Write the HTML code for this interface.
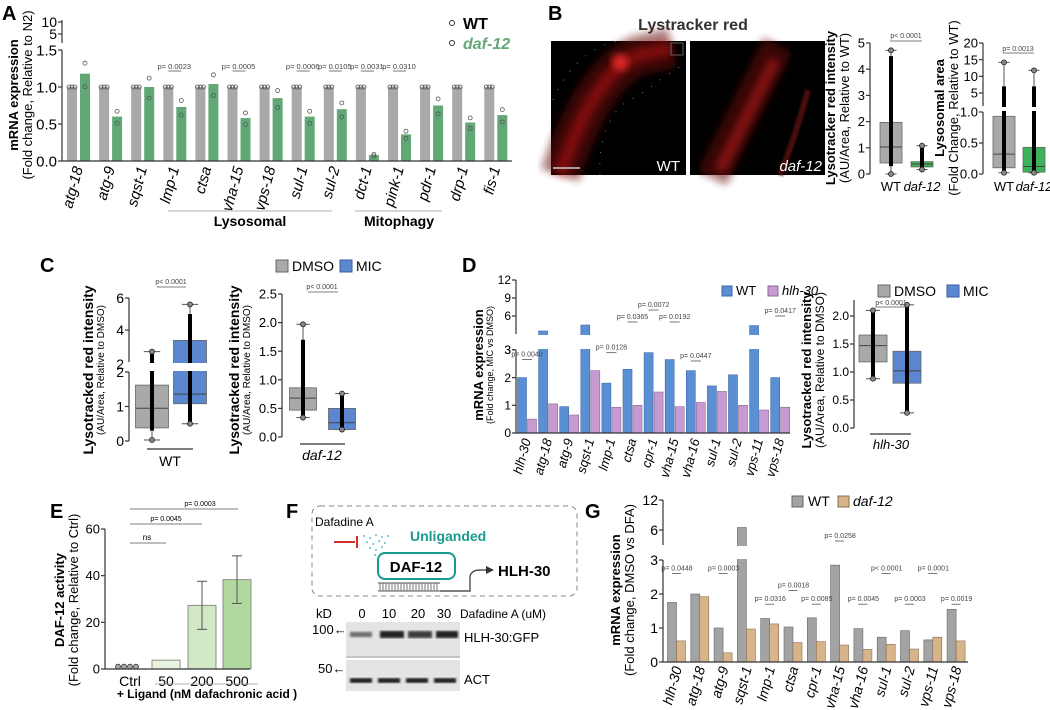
<!DOCTYPE html>
<html><head><meta charset="utf-8"><style>
body{margin:0;background:#fff;}
svg{display:block;font-family:"Liberation Sans",Arial,sans-serif;}
</style></head><body>
<svg id="fig" width="1050" height="710" viewBox="0 0 1050 710" xmlns="http://www.w3.org/2000/svg">
<defs>
<filter id="blur4" x="-20%" y="-20%" width="140%" height="140%"><feGaussianBlur stdDeviation="4"/></filter>
<filter id="blur1"><feGaussianBlur stdDeviation="1"/></filter>
</defs>
<g font-weight="bold" font-size="20">
<text x="2" y="20">A</text>
<text x="548" y="20">B</text>
<text x="40" y="272">C</text>
<text x="462" y="272">D</text>
<text x="50" y="518">E</text>
<text x="286" y="518">F</text>
<text x="585" y="518">G</text>
</g>

<g>
<text x="693" y="30" font-size="16" font-weight="bold" text-anchor="middle" fill="#333">Lystracker red</text>
<rect x="551" y="41" width="135" height="134" fill="#000"/>
<path d="M560,175 C575,130 600,70 640,55 L672,48" stroke="#6a0c0c" stroke-width="40" fill="none" opacity="0.55" filter="url(#blur4)"/>
<path d="M560,175 C575,130 600,70 640,55 L672,48" stroke="#e01818" stroke-width="14" fill="none" opacity="0.4" filter="url(#blur4)"/>
<circle cx="620" cy="62" r="8" fill="#ff3030" opacity="0.8" filter="url(#blur4)"/>
<path d="M553,100 C565,70 590,45 620,41 M600,175 C598,140 610,110 630,100 C650,90 670,70 686,64" stroke="#8090b0" stroke-width="0.8" stroke-dasharray="1,10" fill="none"/>
<rect x="671" y="43" width="12" height="12" fill="none" stroke="#777" stroke-width="0.8"/>
<line x1="553" y1="168" x2="580" y2="168" stroke="#ccc" stroke-width="1.5"/>
<text x="680" y="171" font-size="15" fill="#fff" text-anchor="end">WT</text>
<rect x="690" y="41" width="135" height="134" fill="#000"/>
<path d="M712,178 L778,45" stroke="#6a0c0c" stroke-width="32" fill="none" opacity="0.55" filter="url(#blur4)"/>
<path d="M720,170 L775,60" stroke="#e02020" stroke-width="11" fill="none" opacity="0.45" filter="url(#blur4)"/>
<path d="M808,90 C800,120 790,150 780,175" stroke="#4a0808" stroke-width="6" fill="none" filter="url(#blur1)"/>
<text x="822" y="171" font-size="15" fill="#fff" font-style="italic" text-anchor="end">daf-12</text>
</g>

<g>
<rect x="312" y="506" width="265" height="90" rx="8" fill="none" stroke="#888" stroke-dasharray="5,4"/>
<text x="315" y="526" font-size="12">Dafadine A</text>
<line x1="334" y1="542" x2="355" y2="542" stroke="#d03030" stroke-width="2"/>
<line x1="357" y1="536" x2="357" y2="548" stroke="#d03030" stroke-width="2"/>
<g fill="#3aa0c8">
<circle cx="364" cy="536" r="0.9"/><circle cx="370" cy="538" r="0.9"/><circle cx="376" cy="535" r="0.9"/><circle cx="382" cy="537" r="0.9"/><circle cx="388" cy="536" r="0.9"/>
<circle cx="367" cy="542" r="0.9"/><circle cx="373" cy="544" r="0.9"/><circle cx="379" cy="541" r="0.9"/><circle cx="385" cy="543" r="0.9"/>
<circle cx="370" cy="548" r="0.9"/><circle cx="376" cy="550" r="0.9"/><circle cx="382" cy="547" r="0.9"/><circle cx="375" cy="555" r="0.9"/>
</g>
<text x="410" y="541" font-size="14" font-weight="bold" fill="#1a9a90">Unliganded</text>
<rect x="378" y="553" width="77" height="26" rx="7" fill="#fff" stroke="#1a9a90" stroke-width="2"/>
<text x="416" y="572" font-size="15" font-weight="bold" text-anchor="middle">DAF-12</text>
<path d="M378,583 H440 M378,591 H440" stroke="#555"/>
<path id="hatch" d="" stroke="#555" stroke-width="0.8"/>
<path d="M440,591 H470 V576 Q472,570 480,570 H488" stroke="#333" stroke-width="1.2" fill="none"/>
<path d="M486,566 L494,570 L486,574 Z" fill="#333"/>
<text x="498" y="576" font-size="15" font-weight="bold">HLH-30</text>
<text x="316" y="618" font-size="13">kD</text>
<g font-size="13" text-anchor="middle">
<text x="362" y="618">0</text><text x="389" y="618">10</text><text x="418" y="618">20</text><text x="444" y="618">30</text>
</g>
<text x="460" y="618" font-size="12">Dafadine A (uM)</text>
<rect x="346" y="622" width="114" height="34" fill="#e4e4e4"/>
<g fill="#222" filter="url(#blur1)">
<rect x="350" y="632" width="22" height="5" opacity="0.6"/><rect x="380" y="631" width="24" height="7"/><rect x="408" y="631" width="24" height="7" opacity="0.85"/><rect x="436" y="631" width="22" height="7"/>
</g>
<line x1="346" y1="657" x2="460" y2="657" stroke="#888"/>
<rect x="346" y="660" width="114" height="31" fill="#e4e4e4"/>
<g fill="#222" filter="url(#blur1)">
<rect x="350" y="678" width="22" height="5"/><rect x="378" y="678" width="22" height="5"/><rect x="406" y="678" width="22" height="5"/><rect x="434" y="678" width="22" height="5"/>
</g>
<text x="312" y="634" font-size="13">100←</text>
<text x="318" y="673" font-size="13">50←</text>
<text x="464" y="642" font-size="13">HLH-30:GFP</text>
<text x="464" y="684" font-size="13">ACT</text>
</g>
<g id="charts"></g>
</svg>
<script>
// ---------- DATA ----------
const catsA = ['atg-18','atg-9','sqst-1','lmp-1','ctsa','vha-15','vps-18','sul-1','sul-2','dct-1','pink-1','pdr-1','drp-1','fis-1'];
const wtA = [1,1,1,1,1,1,1,1,1,1,1,1,1,1];
const dafA = [1.18,0.6,1.0,0.73,1.04,0.58,0.85,0.6,0.7,0.08,0.36,0.75,0.52,0.62];
const pA = [[3,'p= 0.0023'],[5,'p= 0.0005'],[7,'p= 0.0006'],[8,'p= 0.0105'],[9,'p= 0.0031'],[10,'p= 0.0310']];

const catsD = ['hlh-30','atg-18','atg-9','sqst-1','lmp-1','ctsa','cpr-1','vha-15','vha-16','sul-1','sul-2','vps-11','vps-18'];
const wtD = [2.0,3.5,0.95,4.5,1.8,2.3,2.9,2.65,2.25,1.7,2.1,4.4,2.0];
const hlhD = [0.5,1.05,0.65,2.25,0.93,1.0,1.48,0.95,1.1,1.5,1.0,0.83,0.93];
const pD = [[0,'p= 0.0040',2.65],[4,'p= 0.0128',2.9],[5,'p= 0.0365',5.0],[6,'p= 0.0072',7.0],[7,'p= 0.0192',5.0],[8,'p= 0.0447',2.6],[12,'p= 0.0417',6.0]];

const catsG = ['hlh-30','atg-18','atg-9','sqst-1','lmp-1','ctsa','cpr-1','vha-15','vha-16','sul-1','sul-2','vps-11','vps-18'];
const wtG = [1.75,2.0,1.0,6.5,1.28,1.03,1.3,2.85,0.98,0.73,0.92,0.65,1.55];
const dafG = [0.62,1.92,0.27,0.97,1.12,0.57,0.6,0.5,0.37,0.52,0.38,0.73,0.62];
const pG = [[0,'p= 0.0448',2.6],[2,'p= 0.0003',2.6],[4,'p= 0.0316',1.7],[5,'p= 0.0018',2.1],[6,'p= 0.0085',1.7],[7,'p= 0.0258',3.8],[8,'p= 0.0045',1.7],[9,'p< 0.0001',2.6],[10,'p= 0.0003',1.7],[11,'p= 0.0001',2.6],[12,'p= 0.0019',1.7]];

const catsE = ['Ctrl','50','200','500'];
const valsE = [1,3.8,27.3,38.3];
const sdE = [0,0,10.3,10.2];

const boxB1 = [[0,0.42,1.03,1.97,4.72],[0.17,0.27,0.38,0.47,1.08]];
const boxB2 = [[0.02,0.1,0.32,0.93,14.2],[0.02,0.03,0.12,0.43,11.8]];
const boxC1 = [[0.03,0.38,0.95,1.62,2.65],[0.5,1.08,1.36,3.35,5.6]];
const boxC2 = [[0.34,0.47,0.68,0.86,1.97],[0.13,0.13,0.25,0.5,0.76]];
const boxD = [[0.88,1.18,1.47,1.66,2.1],[0.27,0.8,1.02,1.37,2.2]];

// ---------- HELPERS ----------
const NS='http://www.w3.org/2000/svg';
const root=document.getElementById('charts');
function mk(tag,attrs,name,parent){
  const e=document.createElementNS(NS,tag);
  for(const k in attrs) e.setAttribute(k,attrs[k]);
  
  
  (parent||root).appendChild(e);return e;
}
function tx(x,y,s,attrs,name,parent){const t=mk('text',Object.assign({x:x,y:y},attrs||{}),name,parent);t.textContent=s;return t;}
function line(x1,y1,x2,y2,st,name,w){return mk('line',{x1:x1,y1:y1,x2:x2,y2:y2,stroke:st||'#333','stroke-width':w||1.2},name);}
function yAxis(x,ticks,yfn,fs,name,fmt){
  ticks.forEach(v=>{const y=yfn(v);line(x-4,y,x,y,'#333',name+'-tick');tx(x-5,y+fs*0.35,fmt?fmt(v):String(v),{'font-size':fs,'text-anchor':'end'},name+'-tick-label');});
}
function yTitle(x,y,t1,t2,fs1,fs2,name){
  tx(x,y,t1,{'font-size':fs1,'font-weight':'bold','text-anchor':'middle',transform:`rotate(-90 ${x} ${y})`},name+'-title');
  if(t2) tx(x+fs2+1,y,t2,{'font-size':fs2,'text-anchor':'middle',transform:`rotate(-90 ${x+fs2+1} ${y})`},name+'-subtitle');
}
function catLabels(cats,xfn,y,fs,name){
  cats.forEach((c,i)=>{const x=xfn(i);tx(x,y,c,{'font-size':fs,'font-style':'italic','text-anchor':'end',transform:`rotate(-75 ${x} ${y})`},name+'-label');});
}

// ---------- PANEL A ----------
(function(){
  const x0=62,x1=512,bot=161,gw=32.1;
  const yA=v=> v<=1.5? bot-v*74 : 34-(v-5)*2.4;
  const xg=i=>x0+10+i*gw, xd=i=>x0+23+i*gw;
  catsA.forEach((c,i)=>{
    mk('rect',{x:xg(i)-5,y:yA(wtA[i]),width:10,height:bot-yA(wtA[i]),fill:'#a9a9a9'},'bar-wt-'+c);
    mk('rect',{x:xd(i)-5,y:yA(dafA[i]),width:10,height:bot-yA(dafA[i]),fill:'#62a876'},'bar-daf12-'+c);
    for(let k=-1;k<=1;k++) mk('circle',{cx:xg(i)+k*3,cy:yA(wtA[i]),r:2,fill:'none',stroke:'#555','stroke-width':0.8},'dot-wt');
    mk('circle',{cx:xd(i),cy:yA(dafA[i]*1.12),r:2,fill:'none',stroke:'#555','stroke-width':0.8},'dot-daf12');
    mk('circle',{cx:xd(i),cy:yA(dafA[i]*0.85),r:2,fill:'none',stroke:'#555','stroke-width':0.8},'dot-daf12');
  });
  line(x0,bot,x1,bot,'#333','x-axis-a');
  line(x0,bot,x0,50,'#333','y-axis-a-lower');
  line(x0,43,x0,20,'#333','y-axis-a-upper');
  yAxis(x0,[0,0.5,1,1.5],yA,15,'y-axis-a',v=>v.toFixed(1));
  yAxis(x0,[5,10],yA,14,'y-axis-a-upper');
  yTitle(18,95,'mRNA expression','(Fold change, Relative to N2)',13,13,'y-axis-a');
  catLabels(catsA,i=>xg(i)+11,168,15,'x-axis-a');
  pA.forEach(p=>{const i=p[0];tx(xg(i)+6,69,p[1],{'font-size':7.5,'text-anchor':'middle',fill:'#444'},'pvalue-a');line(xg(i),71,xd(i),71,'#555','pvalue-a-line',0.8);});
  line(168,211,332,211,'#999','lysosomal-bracket',0.8);
  tx(250,226,'Lysosomal',{'font-size':14,'font-weight':'bold','text-anchor':'middle'},'lysosomal-label');
  line(355,211,442,211,'#999','mitophagy-bracket',0.8);
  tx(399,226,'Mitophagy',{'font-size':14,'font-weight':'bold','text-anchor':'middle'},'mitophagy-label');
  mk('circle',{cx:452,cy:23,r:2.5,fill:'none',stroke:'#333'},'legend-wt-marker');
  tx(463,29,'WT',{'font-size':16,'font-weight':'bold'},'legend-wt');
  mk('circle',{cx:452,cy:43,r:2.5,fill:'none',stroke:'#333'},'legend-daf12-marker');
  tx(463,49,'daf-12',{'font-size':16,'font-weight':'bold','font-style':'italic',fill:'#62a876'},'legend-daf12');
})();

function box(cx,st,yfn,w,fill,name,dense){
  const [mn,q1,md,q3,mx]=st;
  line(cx,yfn(mn),cx,yfn(mx),'#555',name+'-whisker',1);
  line(cx-w/4,yfn(mn),cx+w/4,yfn(mn),'#555',name+'-cap',1);
  line(cx-w/4,yfn(mx),cx+w/4,yfn(mx),'#555',name+'-cap',1);
  mk('rect',{x:cx-w/2,y:yfn(q3),width:w,height:yfn(q1)-yfn(q3),fill:fill,stroke:'#666','stroke-width':0.8},name+'-box');
  line(cx-w/2,yfn(md),cx+w/2,yfn(md),'#444',name+'-median',1);
  const lo=dense?dense[0]:mn, hi=dense?dense[1]:mx;
  line(cx,yfn(lo),cx,yfn(hi),'#000',name+'-points',4);
  mk('circle',{cx:cx,cy:yfn(mx),r:2.5,fill:'#888',stroke:'#222','stroke-width':0.8},name+'-outlier');
  mk('circle',{cx:cx,cy:yfn(mn),r:2.5,fill:'#888',stroke:'#222','stroke-width':0.8},name+'-outlier');
}

// ---------- PANEL B boxes ----------
(function(){
  const yb=v=>174-v*26.2;
  line(870,174,870,43,'#333','y-axis-b1');
  yAxis(870,[0,1,2,3,4,5],yb,13,'y-axis-b1');
  box(891,boxB1[0],yb,22,'#a9a9a9','box-b1-wt',[0.3,4.5]);
  box(922,boxB1[1],yb,22,'#3cb35a','box-b1-daf12',[0.2,1.0]);
  tx(891,191,'WT',{'font-size':13,'text-anchor':'middle'},'x-label-b1-wt');
  tx(922,191,'daf-12',{'font-size':13,'text-anchor':'middle','font-style':'italic'},'x-label-b1-daf12');
  tx(906,38,'p< 0.0001',{'font-size':7,'text-anchor':'middle',fill:'#444'},'pvalue-b1');
  line(890,41,922,41,'#555','pvalue-b1-line',0.8);
  yTitle(835,108,'Lysotracker red intensity','(AU/Area, Relative to WT)',13,13,'y-axis-b1');

  const yb2=v=> v<=1? 174-v*62 : 93-(v-5)*3.33;
  line(983,174,983,112,'#333','y-axis-b2-lower');
  line(983,106,983,43,'#333','y-axis-b2-upper');
  yAxis(983,[0,0.5,1],yb2,13,'y-axis-b2',v=>v.toFixed(1));
  yAxis(983,[5,10,15,20],yb2,13,'y-axis-b2-upper');
  box(1004,boxB2[0],yb2,22,'#a9a9a9','box-b2-wt',[0.02,7]);
  box(1034,boxB2[1],yb2,22,'#3cb35a','box-b2-daf12',[0.02,7]);
  mk('rect',{x:984,y:107,width:62,height:4,fill:'#fff'},'axis-break-b2');
  tx(1004,191,'WT',{'font-size':13,'text-anchor':'middle'},'x-label-b2-wt');
  tx(1034,191,'daf-12',{'font-size':13,'text-anchor':'middle','font-style':'italic'},'x-label-b2-daf12');
  tx(1018,51,'p= 0.0013',{'font-size':7,'text-anchor':'middle',fill:'#444'},'pvalue-b2');
  line(1003,53,1034,53,'#555','pvalue-b2-line',0.8);
  yTitle(944,108,'Lysosomal area','(Fold Change, Relative to WT)',13,13,'y-axis-b2');
})();

// ---------- PANEL C ----------
(function(){
  mk('rect',{x:276,y:260,width:12,height:12,fill:'#a9a9a9',stroke:'#666'},'legend-c-dmso-swatch');
  tx(292,271,'DMSO',{'font-size':14},'legend-c-dmso');
  mk('rect',{x:340,y:260,width:12,height:12,fill:'#5b86d0',stroke:'#3a5a9a'},'legend-c-mic-swatch');
  tx(356,271,'MIC',{'font-size':14},'legend-c-mic');

  const yc=v=> v<=2? 441-v*34.5 : 362-(v-2)*16;
  line(129,441,129,372,'#333','y-axis-c1-lower');
  line(129,362,129,298,'#333','y-axis-c1-upper');
  yAxis(129,[0,1,2],yc,14,'y-axis-c1');
  yAxis(129,[4,6],yc,14,'y-axis-c1-upper');
  tx(124,369,'2',{'font-size':14,'text-anchor':'end'},'y-axis-c1-tick-label');
  box(152,boxC1[0],yc,33,'#a9a9a9','box-c1-dmso',[0.3,2.6]);
  box(190,boxC1[1],yc,33,'#5b86d0','box-c1-mic',[0.5,5.0]);
  mk('rect',{x:130,y:363,width:80,height:8,fill:'#fff'},'axis-break-c1');
  line(147,449,193,449,'#333','x-group-line-c1');
  tx(170,466,'WT',{'font-size':14,'text-anchor':'middle'},'x-label-c1');
  tx(171,284,'p< 0.0001',{'font-size':7,'text-anchor':'middle',fill:'#444'},'pvalue-c1');
  line(157,287,186,287,'#555','pvalue-c1-line',0.8);
  yTitle(93,370,'Lysotracked red intensity','(AU/Area, Relative to DMSO)',14,10,'y-axis-c1');

  const yc2=v=>437-v*57.2;
  line(282,437,282,294,'#333','y-axis-c2');
  yAxis(282,[0,0.5,1,1.5,2,2.5],yc2,13,'y-axis-c2',v=>v.toFixed(1));
  box(303,boxC2[0],yc2,27,'#a9a9a9','box-c2-dmso',[0.35,1.7]);
  box(342,boxC2[1],yc2,27,'#5b86d0','box-c2-mic',[0.15,0.75]);
  line(300,444,345,444,'#333','x-group-line-c2');
  tx(322,460,'daf-12',{'font-size':14,'text-anchor':'middle','font-style':'italic'},'x-label-c2');
  tx(322,289,'p< 0.0001',{'font-size':7,'text-anchor':'middle',fill:'#444'},'pvalue-c2');
  line(308,292,338,292,'#555','pvalue-c2-line',0.8);
  yTitle(239,370,'Lysotracked red intensity','(AU/Area, Relative to DMSO)',14,10,'y-axis-c2');
})();

// ---------- PANEL D ----------
(function(){
  const x0=516,x1=790,bot=433,gw=21.1;
  const yD=v=> v<=3? bot-v*27.7 : 334-(v-3)*6;
  const xb=i=>x0+6+i*gw, xp=i=>x0+16+i*gw;
  catsD.forEach((c,i)=>{
    mk('rect',{x:xb(i)-4.5,y:yD(wtD[i]),width:9,height:bot-yD(wtD[i]),fill:'#5b8fd4',stroke:'#3e6aa8','stroke-width':0.6},'bar-wt-'+c);
    mk('rect',{x:xp(i)-4.5,y:yD(hlhD[i]),width:9,height:bot-yD(hlhD[i]),fill:'#c89ad2',stroke:'#8a6a90','stroke-width':0.6},'bar-hlh30-'+c);
  });
  mk('rect',{x:x0+1,y:335,width:x1-x0,height:14,fill:'#fff'},'axis-break-d');
  line(x0,bot,x1,bot,'#333','x-axis-d');
  line(x0,bot,x0,350,'#333','y-axis-d-lower');
  line(x0,334,x0,280,'#333','y-axis-d-upper');
  yAxis(x0,[0,1,2,3],yD,12,'y-axis-d');
  yAxis(x0,[3,6,9,12],yD,12,'y-axis-d-upper');
  yTitle(483,365,'mRNA expression','(Fold change, MIC vs DMSO)',13,9,'y-axis-d');
  catLabels(catsD,i=>xb(i)+9,440,13,'x-axis-d');
  pD.forEach(p=>{const i=p[0],y=yD(p[2]);tx(xb(i)+5,y-3,p[1],{'font-size':7,'text-anchor':'middle',fill:'#444'},'pvalue-d');line(xb(i),y,xp(i),y,'#555','pvalue-d-line',0.8);});
  mk('rect',{x:722,y:286,width:10,height:10,fill:'#5b8fd4',stroke:'#3e6aa8'},'legend-d-wt-swatch');
  tx(736,295,'WT',{'font-size':13},'legend-d-wt');
  mk('rect',{x:768,y:286,width:10,height:10,fill:'#c89ad2',stroke:'#8a6a90'},'legend-d-hlh30-swatch');
  tx(782,295,'hlh-30',{'font-size':13,'font-style':'italic'},'legend-d-hlh30');

  const yr=v=>428-v*56;
  line(854,428,854,300,'#333','y-axis-d2');
  yAxis(854,[0,0.5,1,1.5,2],yr,12,'y-axis-d2',v=>v.toFixed(1));
  box(873,boxD[0],yr,28,'#a9a9a9','box-d2-dmso',[0.9,2.1]);
  box(907,boxD[1],yr,28,'#5b86d0','box-d2-mic',[0.28,2.2]);
  line(870,434,911,434,'#333','x-group-line-d2');
  tx(891,449,'hlh-30',{'font-size':13,'text-anchor':'middle','font-style':'italic'},'x-label-d2');
  tx(891,305,'p< 0.0001',{'font-size':7,'text-anchor':'middle',fill:'#444'},'pvalue-d2');
  line(875,307,906,307,'#555','pvalue-d2-line',0.8);
  yTitle(811,370,'Lysotracked red intensity','(AU/Area, Relative to DMSO)',13,12,'y-axis-d2');
  mk('rect',{x:878,y:285,width:12,height:12,fill:'#a9a9a9',stroke:'#666'},'legend-d2-dmso-swatch');
  tx(894,296,'DMSO',{'font-size':14},'legend-d2-dmso');
  mk('rect',{x:947,y:285,width:12,height:12,fill:'#5b86d0',stroke:'#3a5a9a'},'legend-d2-mic-swatch');
  tx(963,296,'MIC',{'font-size':14},'legend-d2-mic');
})();

// ---------- PANEL E ----------
(function(){
  const x0=105,bot=669;
  const yE=v=>bot-v*2.333;
  const xc=[130,166,202,237];
  const fills=['#fff','#e8f4df','#d3e9c6','#b1d99f'];
  catsE.forEach((c,i)=>{
    if(i>0) mk('rect',{x:xc[i]-14,y:yE(valsE[i]),width:28,height:bot-yE(valsE[i]),fill:fills[i],stroke:'#777','stroke-width':0.8},'bar-e-'+c);
    if(sdE[i]>0){line(xc[i],yE(valsE[i]-sdE[i]),xc[i],yE(valsE[i]+sdE[i]),'#555','errorbar-e',1);
      line(xc[i]-5,yE(valsE[i]+sdE[i]),xc[i]+5,yE(valsE[i]+sdE[i]),'#555','errorbar-cap-e',1);
      line(xc[i]-5,yE(valsE[i]-sdE[i]),xc[i]+5,yE(valsE[i]-sdE[i]),'#555','errorbar-cap-e',1);}
    tx(xc[i],bot+17,c,{'font-size':14,'text-anchor':'middle'},'x-label-e');
  });
  [118,124,130,136].forEach(x=>mk('circle',{cx:x,cy:yE(valsE[0]),r:2.5,fill:'#aaa',stroke:'#333','stroke-width':0.8},'dot-e-ctrl'));
  line(x0,bot,250,bot,'#333','x-axis-e');
  line(x0,bot,x0,529,'#333','y-axis-e');
  yAxis(x0,[0,20,40,60],yE,13,'y-axis-e');
  yTitle(64,600,'DAF-12 activity','(Fold change, Relative to Ctrl)',13,13,'y-axis-e');
  line(155,684,258,684,'#999','ligand-line',0.8);
  tx(207,698,'+ Ligand (nM dafachronic acid )',{'font-size':12,'font-weight':'bold','text-anchor':'middle'},'x-axis-e-title');
  line(130,543,166,543,'#555','sig-ns-line',0.8);tx(147,540,'ns',{'font-size':8,'text-anchor':'middle'},'sig-ns');
  line(130,524,202,524,'#555','sig-200-line',0.8);tx(166,521,'p= 0.0045',{'font-size':7,'text-anchor':'middle'},'sig-200');
  line(130,509,238,509,'#555','sig-500-line',0.8);tx(200,506,'p= 0.0003',{'font-size':7,'text-anchor':'middle'},'sig-500');
})();

// ---------- PANEL G ----------
(function(){
  const x0=663,x1=968,bot=662,gw=23.3;
  const yG=v=> v<=3? bot-v*34 : 545-(v-3)*5;
  const xw=i=>x0+9+i*gw, xd=i=>x0+18+i*gw;
  catsG.forEach((c,i)=>{
    mk('rect',{x:xw(i)-4.5,y:yG(wtG[i]),width:9,height:bot-yG(wtG[i]),fill:'#a3a3a3',stroke:'#666','stroke-width':0.6},'bar-wt-'+c);
    mk('rect',{x:xd(i)-4.5,y:yG(dafG[i]),width:9,height:bot-yG(dafG[i]),fill:'#d8b48a',stroke:'#8a6e50','stroke-width':0.6},'bar-daf12-'+c);
  });
  mk('rect',{x:x0+1,y:546,width:x1-x0,height:13,fill:'#fff'},'axis-break-g');
  line(x0,bot,x1,bot,'#333','x-axis-g');
  line(x0,bot,x0,560,'#333','y-axis-g-lower');
  line(x0,545,x0,500,'#333','y-axis-g-upper');
  yAxis(x0,[0,1,2,3],yG,14,'y-axis-g');
  yAxis(x0,[6,12],yG,14,'y-axis-g-upper');
  yTitle(620,590,'mRNA expression','(Fold change, DMSO vs DFA)',13,13,'y-axis-g');
  catLabels(catsG,i=>xw(i)+10,668,14,'x-axis-g');
  pG.forEach(p=>{const i=p[0],y=yG(p[2]);tx(xw(i)+5,y-3,p[1],{'font-size':7,'text-anchor':'middle',fill:'#444'},'pvalue-g');line(xw(i),y,xd(i),y,'#555','pvalue-g-line',0.8);});
  mk('rect',{x:792,y:496,width:11,height:11,fill:'#a3a3a3',stroke:'#666'},'legend-g-wt-swatch');
  tx(808,506,'WT',{'font-size':14},'legend-g-wt');
  mk('rect',{x:838,y:496,width:11,height:11,fill:'#d8b48a',stroke:'#8a6e50'},'legend-g-daf12-swatch');
  tx(853,506,'daf-12',{'font-size':14,'font-style':'italic'},'legend-g-daf12');
})();

(function(){let d='';for(let x=380;x<=438;x+=3)d+=`M${x},583 V591 `;document.getElementById('hatch').setAttribute('d',d);})();
</script>
</body></html>
